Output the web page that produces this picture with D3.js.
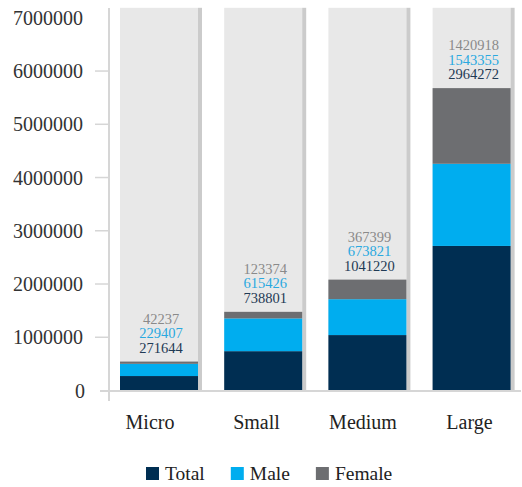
<!DOCTYPE html>
<html>
<head>
<meta charset="utf-8">
<script src="https://cdn.jsdelivr.net/npm/d3@7"></script>
<style>
  body { margin: 0; background: #fff; }
</style>
</head>
<body>
<div id="chart"></div>
<script>
// data
const categories = ["Micro", "Small", "Medium", "Large"];
const totalValues = [271644, 738801, 1041220, 2964272];
const maleValues = [229407, 615426, 673821, 1543355];
const femaleValues = [42237, 123374, 367399, 1420918];
// the dark segment of "Large" is drawn shorter than its label in the source
const totalBarValues = [271644, 738801, 1041220, 2715000];
const yTicks = [0, 1000000, 2000000, 3000000, 4000000, 5000000, 6000000, 7000000];

const seriesNames = ["Total", "Male", "Female"];
const colors = { Total: "#002e52", Male: "#00adef", Female: "#6d6e71" };
const labelColors = { Total: "#1f3a55", Male: "#2aa9e0", Female: "#8a8a8a" };

const width = 522;
const height = 487;
const serif = "Liberation Serif, Times New Roman, DejaVu Serif, serif";

const svg = d3.select("#chart")
  .append("svg")
  .attr("width", width)
  .attr("height", height)
  .attr("font-family", serif)
  .style("display", "block");

const y = d3.scaleLinear()
  .domain([0, 7000000])
  .range([390.5, 17.8]);

const x = d3.scaleBand()
  .domain(categories)
  .range([120, 514.6])
  .paddingInner(0.213)
  .paddingOuter(0);

const labelX = d3.scalePoint()
  .domain(categories)
  .range([149.5, 469]);

const shadow = 4;
const barW = x.bandwidth() - shadow;

// rows for stacking
const rows = categories.map((c, i) => ({
  category: c,
  Total: totalBarValues[i],
  Male: maleValues[i],
  Female: femaleValues[i],
  labels: { Total: totalValues[i], Male: maleValues[i], Female: femaleValues[i] }
}));

const layers = d3.stack().keys(seriesNames)(rows);

// background columns
const bg = svg.append("g");
bg.selectAll("rect.bg")
  .data(categories)
  .enter()
  .append("rect")
  .attr("class", "bg")
  .attr("x", d => x(d))
  .attr("y", y(7000000) - 10)
  .attr("width", barW)
  .attr("height", y(0) - y(7000000) + 10)
  .attr("fill", "#e8e8e8");

bg.selectAll("rect.shadow")
  .data(categories)
  .enter()
  .append("rect")
  .attr("class", "shadow")
  .attr("x", d => x(d) + barW)
  .attr("y", y(7000000) - 10)
  .attr("width", shadow)
  .attr("height", y(0) - y(7000000) + 10)
  .attr("fill", "#cbcbcb");

// stacked segments
svg.append("g")
  .selectAll("g")
  .data(layers)
  .enter()
  .append("g")
  .attr("fill", d => colors[d.key])
  .selectAll("rect")
  .data(d => d)
  .enter()
  .append("rect")
  .attr("x", d => x(d.data.category))
  .attr("y", d => y(d[1]))
  .attr("width", barW)
  .attr("height", d => y(d[0]) - y(d[1]));

// value labels above each stack
const lineH = 14.5;
const labelOrder = ["Female", "Male", "Total"];
rows.forEach(r => {
  const top = y(r.Total + r.Male + r.Female);
  const cx = x(r.category) + x.bandwidth() / 2;
  labelOrder.forEach((k, j) => {
    svg.append("text")
      .attr("x", cx)
      .attr("y", top - 9 - (labelOrder.length - 1 - j) * lineH)
      .attr("text-anchor", "middle")
      .attr("font-family", serif)
      .attr("font-size", "14.5px")
      .attr("fill", labelColors[k])
      .text(r.labels[k]);
  });
});

// axis lines
svg.append("line")
  .attr("x1", 109).attr("x2", 109)
  .attr("y1", 8).attr("y2", 401)
  .attr("stroke", "#d6d6d6")
  .attr("stroke-width", 2);

svg.append("line")
  .attr("x1", 100).attr("x2", 521)
  .attr("y1", y(0) + 0.5).attr("y2", y(0) + 0.5)
  .attr("stroke", "#d6d6d6")
  .attr("stroke-width", 2);

// y ticks
const yAxis = svg.append("g");
yAxis.selectAll("line")
  .data(yTicks.filter(t => t > 0 && t < 7000000))
  .enter()
  .append("line")
  .attr("x1", 95).attr("x2", 108)
  .attr("y1", d => y(d)).attr("y2", d => y(d))
  .attr("stroke", "#d6d6d6")
  .attr("stroke-width", 1.5);

yAxis.selectAll("text")
  .data(yTicks)
  .enter()
  .append("text")
  .attr("x", d => d === 0 ? 85 : 83)
  .attr("y", d => y(d))
  .attr("dy", "0.35em")
  .attr("text-anchor", "end")
  .attr("font-family", serif)
  .attr("font-size", "20px")
  .attr("fill", "#333")
  .text(d => d);

// category labels
svg.append("g")
  .attr("transform", "translate(0,429)")
  .call(d3.axisBottom(labelX).tickSize(0).tickPadding(0))
  .call(g => g.select(".domain").remove())
  .attr("font-family", serif)
  .selectAll("text")
  .attr("dy", 0)
  .attr("font-size", "20px")
  .attr("fill", "#222");

// legend
const legend = svg.append("g").attr("transform", "translate(146,467)");
let lx = 0;
seriesNames.forEach(k => {
  const item = legend.append("g").attr("transform", `translate(${lx},0)`);
  item.append("rect")
    .attr("width", 13)
    .attr("height", 13)
    .attr("fill", colors[k]);
  const t = item.append("text")
    .attr("x", 19)
    .attr("y", 12.5)
    .attr("font-family", serif)
    .attr("font-size", "19.5px")
    .attr("fill", "#222")
    .text(k);
  lx += 19 + t.node().getComputedTextLength() + 26;
});
</script>
</body>
</html>
